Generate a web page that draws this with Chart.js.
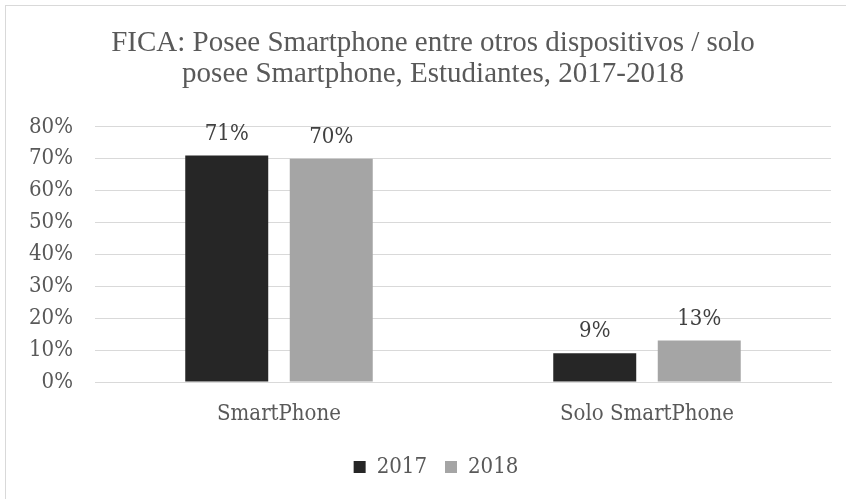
<!DOCTYPE html>
<html>
<head>
<meta charset="utf-8">
<script src="https://cdn.jsdelivr.net/npm/chart.js@4.4.0/dist/chart.umd.min.js"></script>
<style>
html,body{margin:0;padding:0;background:#fff;}
#wrap{position:absolute;left:0;top:0;width:846px;height:499px;overflow:hidden;}
#frame{position:absolute;left:5px;top:5px;width:860px;height:520px;border-left:1px solid #d9d9d9;border-top:1px solid #d9d9d9;pointer-events:none;}
canvas{position:absolute;left:0;top:0;}
</style>
</head>
<body>
<div id="wrap">
<canvas id="c" width="846" height="499"></canvas>
<div id="frame"></div>
</div>
<script>
const titleLines = ["FICA: Posee Smartphone entre otros dispositivos / solo", "posee Smartphone, Estudiantes, 2017-2018"];
const categories = ["SmartPhone", "Solo SmartPhone"];
const seriesNames = ["2017", "2018"];
const values2017 = [71, 9];
const values2018 = [70, 13];
const yTicks = [0, 10, 20, 30, 40, 50, 60, 70, 80];

const serif = "'DejaVu Serif Condensed', 'DejaVu Serif', serif";
const textColor = "#595959";

const dataLabels = {
  id: 'dataLabels',
  afterDatasetsDraw(chart) {
    const ctx = chart.ctx;
    ctx.save();
    ctx.font = "22px " + serif;
    ctx.fillStyle = "#404040";
    ctx.textAlign = "center";
    ctx.textBaseline = "alphabetic";
    chart.data.datasets.forEach((ds, i) => {
      chart.getDatasetMeta(i).data.forEach((bar, j) => {
        ctx.fillText(ds.data[j] + "%", bar.x, bar.y - 16);
      });
    });
    ctx.restore();
  }
};

// the original chart frame extends past the right edge of the picture,
// so its title and legend are centred slightly right of the plot centre
const shiftBlocks = {
  id: 'shiftBlocks',
  afterLayout(chart) {
    if (chart.titleBlock) { chart.titleBlock.left += 15; chart.titleBlock.right += 15; }
    if (chart.legend) { chart.legend.left += 18; chart.legend.right += 18; }
  }
};

new Chart(document.getElementById('c'), {
  type: 'bar',
  data: {
    labels: categories,
    datasets: [
      { label: seriesNames[0], data: values2017, backgroundColor: "#262626", categoryPercentage: 0.568, barPercentage: 0.794 },
      { label: seriesNames[1], data: values2018, backgroundColor: "#a5a5a5", categoryPercentage: 0.568, barPercentage: 0.794 }
    ]
  },
  options: {
    responsive: false,
    animation: false,
    devicePixelRatio: 1,
    layout: { padding: { left: 5, right: 15, top: 0, bottom: 11 } },
    plugins: {
      title: {
        display: true,
        text: titleLines,
        color: textColor,
        font: { family: "'Liberation Serif', serif", size: 29, weight: 'normal', lineHeight: 1.1 },
        padding: { top: 27, bottom: 36 }
      },
      legend: {
        position: 'bottom',
        labels: {
          color: textColor,
          font: { family: serif, size: 22 },
          boxWidth: 12,
          boxHeight: 12,
          padding: 18
        }
      },
      tooltip: { enabled: false }
    },
    scales: {
      x: {
        grid: { display: false, drawTicks: false },
        border: { display: true, color: "#d9d9d9" },
        ticks: { color: textColor, font: { family: serif, size: 22 }, padding: 19 },
        afterFit(s) { s.height = 56; }
      },
      y: {
        min: 0, max: 80,
        afterBuildTicks(s) { s.ticks = yTicks.map(v => ({ value: v })); },
        grid: { color: "#d9d9d9", drawTicks: false },
        border: { display: false },
        ticks: { color: textColor, font: { family: serif, size: 22 }, padding: 22, callback: v => v + "%" },
        afterFit(s) { s.width = 90; }
      }
    }
  },
  plugins: [dataLabels, shiftBlocks]
});
</script>
</body>
</html>
